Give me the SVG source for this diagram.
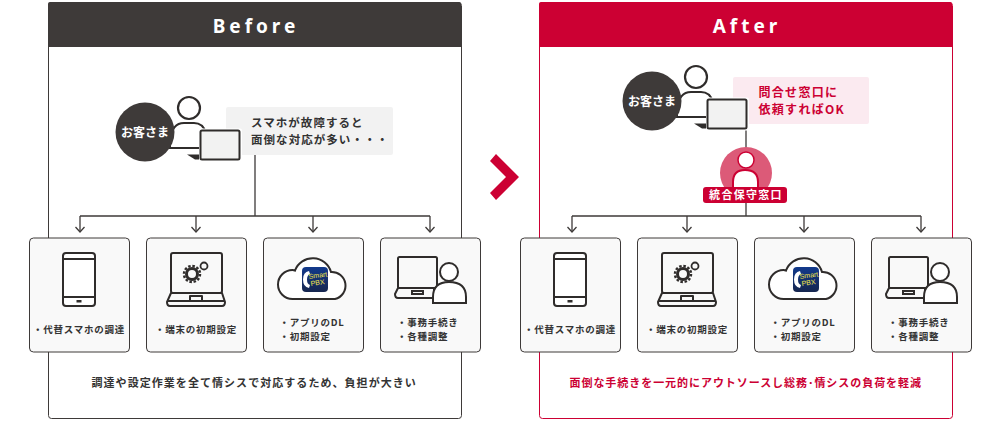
<svg xmlns="http://www.w3.org/2000/svg" width="1000" height="422" viewBox="0 0 1000 422">
<style>
text{font-family:"Noto Sans CJK JP","Liberation Sans",sans-serif;font-weight:700;fill:#333}
.ln{fill:none;stroke:#3e3a39;stroke-width:1.3}
.ic{fill:none;stroke:#2f2c2b;stroke-width:2;stroke-linejoin:round}
.card{fill:#f9f9f9;stroke:#3e3a39;stroke-width:1}
.lbl{font-size:9.500px;letter-spacing:0.750px}
.ti{font-size:19px;fill:#fff;letter-spacing:4px;font-family:"Noto Sans","Liberation Sans",sans-serif;text-anchor:middle}
.bub{font-size:11.500px;letter-spacing:1.050px}
.red{fill:#cc0033}
.app{fill:#f3e64a;font-weight:400;font-family:"Liberation Sans",sans-serif;font-size:7px}
</style>
<defs>
<linearGradient id="appbg" x1="0" y1="0" x2="0" y2="1"><stop offset="0" stop-color="#123a8c"/><stop offset="1" stop-color="#16264f"/></linearGradient>
<g id="customer">
<circle cx="44" cy="-24" r="11" fill="#fff" stroke="#2f2c2b" stroke-width="2.200"/>
<path d="M25 16V8Q27-9 39-9H49Q58-9 61 1V16Z" fill="#fff" stroke="#2f2c2b" stroke-width="2"/>
<circle cx="0" cy="0" r="29.500" fill="#3e3a39"/>
<text x="0" y="4.500" font-size="12" text-anchor="middle" style="fill:#fff">お客さま</text>
<path d="M42 22.500H57V27.500H50Z" fill="#2f2c2b"/>
<rect x="54" y="-3.500" width="43" height="33" rx="2" fill="#fff"/>
<rect x="55.500" y="-1.500" width="39" height="29" rx="1.500" fill="#f2f2f2" stroke="#2f2c2b" stroke-width="2"/>
</g>
<g id="phone">
<rect x="63" y="253" width="32" height="53" rx="3" fill="#fff" stroke="#2f2c2b" stroke-width="2"/>
<path d="M63 259H95M63 297H95" class="ic"/>
<rect x="76.500" y="300" width="5" height="2.500" fill="#2f2c2b"/>
</g>
<g id="pc">
<rect x="171" y="253" width="51" height="40" rx="2" fill="#f9f9f9" stroke="#2f2c2b" stroke-width="2"/>
<path d="M171 293L167 302Q167 306 170 306H222Q225 306 225 302L222 293ZM190 301V296H202V301ZM168 301H225" class="ic"/>
<circle cx="192" cy="274" r="5.500" fill="none" stroke="#2f2c2b" stroke-width="3"/>
<circle cx="192" cy="274" r="8" fill="none" stroke="#2f2c2b" stroke-width="2.500" stroke-dasharray="2.500 1.700"/>
<circle cx="204" cy="266" r="3.500" fill="none" stroke="#2f2c2b" stroke-width="1.800"/>
</g>
<g id="cloud">
<path d="M292.500 299A14.500 14.500 0 0 1 292.500 270Q294 270 295 270.500A19 19 0 0 1 331 272A13.700 13.700 0 0 1 335 299Z" fill="#fff" stroke="#2f2c2b" stroke-width="2"/>
<rect x="302" y="267" width="26" height="25" rx="4" fill="url(#appbg)"/>
<path d="M309 271Q303 272 303 279.500Q303 287 309 288L310 285Q307 284 307 279.500Q307 275 310 274Z" fill="#fff"/>
<text class="app" x="309" y="279" transform="rotate(-8 309 279)">Smart</text>
<text class="app" x="311" y="286" transform="rotate(-8 311 286)">PBX</text>
</g>
<g id="pcuser">
<rect x="398" y="257" width="39" height="31" rx="1.500" fill="#f9f9f9" stroke="#2f2c2b" stroke-width="2"/>
<path d="M398 288L395 294Q395 298 398 298H434V288ZM412 294V291H423V294Z" fill="#f9f9f9" stroke="#2f2c2b" stroke-width="2"/>
<circle cx="449" cy="272" r="9" fill="#fff" stroke="#2f2c2b" stroke-width="2"/>
<path d="M433 303V297Q433 282 449 282Q466 282 466 297V303Z" fill="#fff" stroke="#2f2c2b" stroke-width="2"/>
</g>
<marker id="arr" markerWidth="10" markerHeight="8" refX="5" refY="7" orient="0" markerUnits="userSpaceOnUse" viewBox="0 0 10 8"><path d="M0.500 2L5 7L9.500 2" fill="none" stroke="#3e3a39" stroke-width="1.300"/></marker>
</defs>

<g id="panel-before">
<rect x="48.500" y="2.500" width="413" height="416" rx="3" fill="#fff" stroke="#3e3a39" stroke-width="1"/>
<path d="M48 47V4Q48 2 50 2H459Q461 2 461 4V47Z" fill="#3e3a39"/>
<text class="ti" x="256" y="33">Before</text>
</g>
<g id="panel-after">
<rect x="539.500" y="2.500" width="413" height="416" rx="3" fill="#fff" stroke="#cc0033" stroke-width="1"/>
<path d="M539 47V4Q539 2 541 2H950Q952 2 952 4V47Z" fill="#cc0033"/>
<text class="ti" x="747" y="33">After</text>
</g>
<g id="big-arrow"><path d="M496 154L519 177L496 200L490 193L506 177L490 161Z" fill="#cc0033"/></g>

<g id="connectors">
<path class="ln" d="M255 155V216M80 216H430"/>
<path class="ln" marker-end="url(#arr)" d="M80 216V232"/>
<path class="ln" marker-end="url(#arr)" d="M196 216V232"/>
<path class="ln" marker-end="url(#arr)" d="M313 216V232"/>
<path class="ln" marker-end="url(#arr)" d="M430 216V232"/>
<path class="ln" d="M746 128V148M746 203V216M572 216H921"/>
<path class="ln" marker-end="url(#arr)" d="M572 216V232"/>
<path class="ln" marker-end="url(#arr)" d="M687 216V232"/>
<path class="ln" marker-end="url(#arr)" d="M804 216V232"/>
<path class="ln" marker-end="url(#arr)" d="M921 216V232"/>
</g>

<g id="before-bubble">
<rect x="226" y="107" width="167" height="48" rx="2" fill="#f2f2f2"/>
<text class="bub" x="251" y="127">スマホが故障すると</text>
<text class="bub" x="251" y="144">面倒な対応が多い・・・</text>
</g>
<g id="before-customer"><use href="#customer" x="145" y="132"/></g>

<g id="after-bubble">
<rect x="733" y="77" width="136" height="47" rx="2" fill="#fbeaf0"/>
<text class="red" x="758.500" y="97" font-size="12" letter-spacing="1.300">問合せ窓口に</text>
<text class="red" x="758.500" y="114" font-size="12" letter-spacing="1.300">依頼すればOK</text>
</g>
<g id="after-customer"><use href="#customer" x="652" y="101"/></g>
<g id="support-desk">
<circle cx="746" cy="173" r="26" fill="#dc5a78"/>
<circle cx="746" cy="160" r="8" fill="#fff" stroke="#cc0033" stroke-width="1.500"/>
<path d="M733 190V182Q733 170 745 170Q758 170 758 182V190Z" fill="#fff" stroke="#cc0033" stroke-width="2"/>
<rect x="703" y="187" width="84" height="16" rx="3" fill="#cc0033"/>
<text x="746" y="199" font-size="11" letter-spacing="1.300" text-anchor="middle" style="fill:#fff">統合保守窓口</text>
</g>

<g id="before-card-1"><rect class="card" x="29.500" y="238" width="100" height="114" rx="4"/><use href="#phone"/><text class="lbl" x="79" y="333" text-anchor="middle">・代替スマホの調達</text></g>
<g id="before-card-2"><rect class="card" x="146.500" y="238" width="100" height="114" rx="4"/><use href="#pc"/><text class="lbl" x="196" y="333" text-anchor="middle">・端末の初期設定</text></g>
<g id="before-card-3"><rect class="card" x="263.500" y="238" width="100" height="114" rx="4"/><use href="#cloud"/><text class="lbl" x="279.500" y="326">・アプリのDL</text><text class="lbl" x="279.500" y="340">・初期設定</text></g>
<g id="before-card-4"><rect class="card" x="380.500" y="238" width="100" height="114" rx="4"/><use href="#pcuser"/><text class="lbl" x="397" y="326">・事務手続き</text><text class="lbl" x="397" y="340">・各種調整</text></g>

<g id="after-card-1"><rect class="card" x="520.500" y="238" width="100" height="114" rx="4"/><use href="#phone" x="491"/><text class="lbl" x="570" y="333" text-anchor="middle">・代替スマホの調達</text></g>
<g id="after-card-2"><rect class="card" x="637.500" y="238" width="100" height="114" rx="4"/><use href="#pc" x="491"/><text class="lbl" x="687" y="333" text-anchor="middle">・端末の初期設定</text></g>
<g id="after-card-3"><rect class="card" x="754.500" y="238" width="100" height="114" rx="4"/><use href="#cloud" x="491"/><text class="lbl" x="770.500" y="326">・アプリのDL</text><text class="lbl" x="770.500" y="340">・初期設定</text></g>
<g id="after-card-4"><rect class="card" x="871.500" y="238" width="100" height="114" rx="4"/><use href="#pcuser" x="491"/><text class="lbl" x="888" y="326">・事務手続き</text><text class="lbl" x="888" y="340">・各種調整</text></g>

<text x="91.500" y="387" font-size="11" letter-spacing="1.050">調達や設定作業を全て情シスで対応するため、負担が大きい</text>
<text class="red" x="569.500" y="387" font-size="11" letter-spacing="0.950">面倒な手続きを一元的にアウトソースし総務･情シスの負荷を軽減</text>
</svg>
